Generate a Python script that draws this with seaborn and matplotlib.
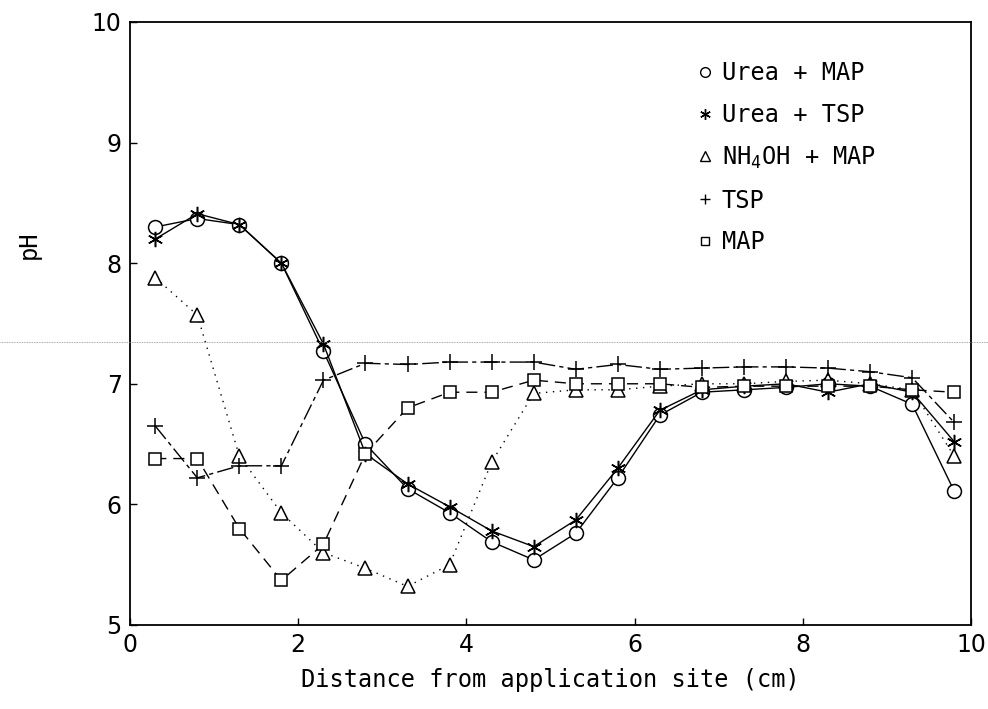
import matplotlib
matplotlib.use("Agg")
import numpy as np
import seaborn as sns
from matplotlib import pyplot as plt
from matplotlib.lines import Line2D

# distance from application site (cm)
distance = [0.3, 0.8, 1.3, 1.8, 2.3, 2.8, 3.3, 3.8, 4.3, 4.8,
            5.3, 5.8, 6.3, 6.8, 7.3, 7.8, 8.3, 8.8, 9.3, 9.8]

urea_map = [8.30, 8.37, 8.32, 8.00, 7.27, 6.50, 6.13, 5.93, 5.69, 5.54,
            5.76, 6.22, 6.74, 6.93, 6.95, 6.97, 7.00, 6.98, 6.83, 6.11]
urea_tsp = [8.20, 8.41, 8.32, 8.00, 7.33, 6.42, 6.17, 5.98, 5.78, 5.65,
            5.87, 6.30, 6.78, 6.95, 6.98, 7.00, 6.93, 7.00, 6.93, 6.52]
nh4oh_map = [7.88, 7.57, 6.40, 5.93, 5.60, 5.47, 5.32, 5.50, 6.35, 6.92,
             6.95, 6.95, 6.98, 7.00, 7.00, 7.02, 7.03, 7.00, 6.95, 6.40]
tsp = [6.65, 6.22, 6.32, 6.32, 7.03, 7.17, 7.16, 7.18, 7.18, 7.18,
       7.12, 7.16, 7.12, 7.13, 7.14, 7.14, 7.13, 7.10, 7.05, 6.68]
map_only = [6.38, 6.38, 5.80, 5.37, 5.67, 6.42, 6.80, 6.93, 6.93, 7.03,
            7.00, 7.00, 7.00, 6.97, 6.98, 6.98, 6.98, 6.98, 6.95, 6.93]

labels = ["Urea + MAP", "Urea + TSP", r"NH$_4$OH + MAP", "TSP", "MAP"]
series = [urea_map, urea_tsp, nh4oh_map, tsp, map_only]

# marker, markersize, line dashes (None = solid)
styles = [
    ("o", 10, None),
    ((6, 2, 0), 11, None),
    ("^", 10, (1, 4)),
    ("+", 11, (12, 3, 3, 3)),
    ("s", 8, (8, 5)),
]

sns.set_style("ticks")
plt.rcParams["font.family"] = ["DejaVu Sans Mono", "DejaVu Sans"]
plt.rcParams["mathtext.fontset"] = "custom"
plt.rcParams["mathtext.rm"] = "DejaVu Sans Mono"
for key in ["text.color", "axes.labelcolor", "xtick.color", "ytick.color",
            "axes.edgecolor"]:
    plt.rcParams[key] = "black"

fig = plt.figure(figsize=(9.88, 7.09), dpi=100)
ax = fig.add_axes([0.1316, 0.1185, 0.8512, 0.8505])

for vals, lab, (mk, ms, dash) in zip(series, labels, styles):
    kw = dict(color="black", linewidth=1.0, marker=mk, markersize=ms,
              markeredgecolor="black", markeredgewidth=1.1,
              markerfacecolor="white")
    sns.lineplot(x=distance, y=vals, ax=ax, **kw)
    line = ax.lines[-1]
    if dash is not None:
        line.set_dashes(dash)

ax.set_xlim(0, 10)
ax.set_ylim(5, 10)
ax.set_xticks([0, 2, 4, 6, 8, 10])
ax.set_yticks([5, 6, 7, 8, 9, 10])
ax.tick_params(direction="in", length=5, width=1, labelsize=17, pad=6)
for t in ax.get_xticklabels() + ax.get_yticklabels():
    t.set_fontfamily("DejaVu Sans")
for sp in ax.spines.values():
    sp.set_visible(True)
    sp.set_linewidth(1.3)

ax.set_xlabel("Distance from application site (cm)", fontsize=17, labelpad=8)
ax.set_ylabel("pH", fontsize=17)
ax.yaxis.set_label_coords(-0.106, 0.63)

handles = []
for lab, (mk, ms, dash) in zip(labels, styles):
    handles.append(Line2D([], [], linestyle="none", marker=mk,
                          markersize=ms * 0.7, color="black",
                          markerfacecolor="white", markeredgecolor="black"))
ax.legend(handles, labels, loc="upper left", bbox_to_anchor=(0.65, 0.97),
          frameon=False, fontsize=17, handlelength=0.6, handletextpad=0.4,
          labelspacing=0.75)

# faint horizontal scan line across the page
fig.add_artist(Line2D([0, 1], [0.5176, 0.5176], transform=fig.transFigure,
                      color="0.55", linewidth=0.6, linestyle=(0, (1, 1))))

fig.savefig("out.png", dpi=100)
